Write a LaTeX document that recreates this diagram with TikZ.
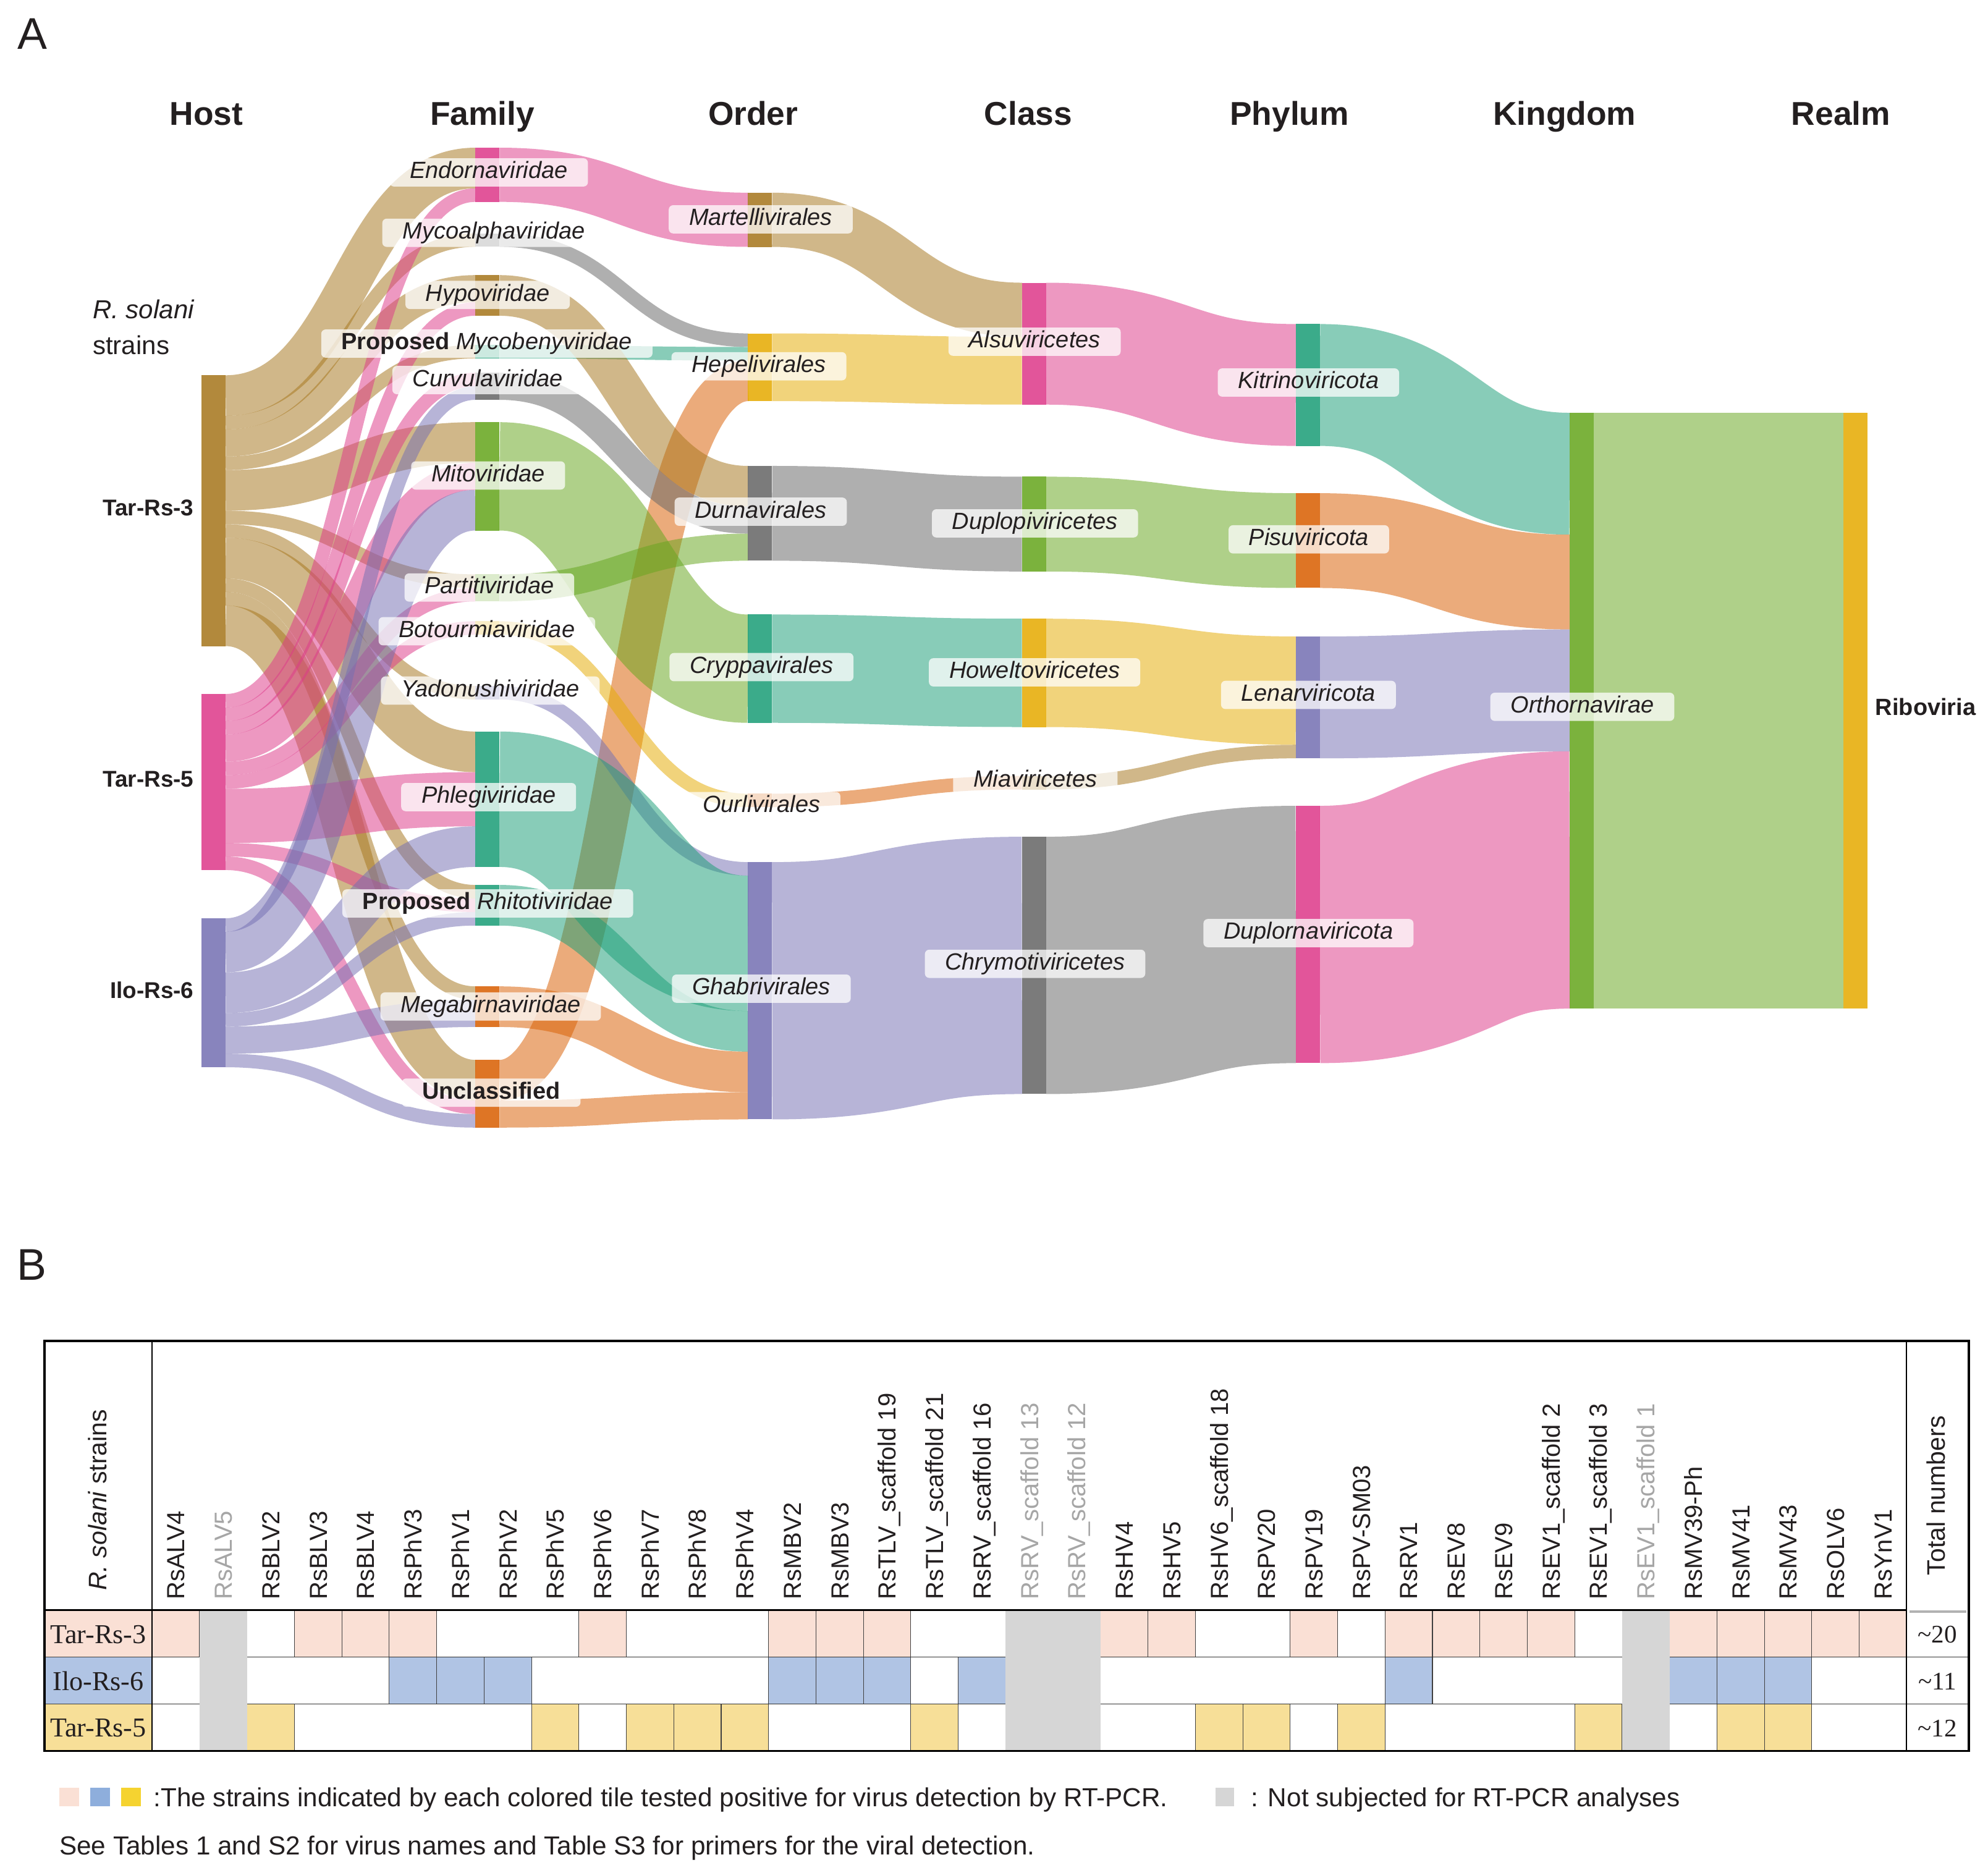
\documentclass[tikz,border=0pt]{standalone}
\usepackage{fontspec}
\setmainfont{Liberation Sans}
\newfontfamily\tabserif{Liberation Serif}
\usetikzlibrary{calc}
\definecolor{cTeal}{HTML}{1B9E77}
\definecolor{cOrange}{HTML}{D95F02}
\definecolor{cPurple}{HTML}{7570B3}
\definecolor{cPink}{HTML}{DE3A8A}
\definecolor{cGreen}{HTML}{66A61E}
\definecolor{cYellow}{HTML}{E6AB02}
\definecolor{cBrown}{HTML}{A6761D}
\definecolor{cGray}{HTML}{666666}
\definecolor{tPeach}{HTML}{FAE0D5}
\definecolor{tBlue}{HTML}{B0C4E4}
\definecolor{tYel}{HTML}{F7DF98}
\definecolor{tGray}{HTML}{D6D6D6}
\definecolor{gBlue}{HTML}{8EAEDC}
\definecolor{gYel}{HTML}{F5D330}
\definecolor{hdrGray}{HTML}{A6A6A6}
\definecolor{txt}{HTML}{231F20}
\newcommand\labfont{\fontsize{18.5}{20}\selectfont\itshape}
\newcommand\sbar[5]{\pgfmathsetmacro\sbarh{(#4)*10.68}\node[sbarst, fill=#5, minimum height=\sbarh pt] (#1) at (#2,#3) {};}
\newcommand\lnk[6]{%
 \pgfmathsetmacro\lnkw{(#5)*10.68}%
 \pgfmathsetmacro\lnkso{-(#2+(#5)/2)*10.68}%
 \pgfmathsetmacro\lnkto{-(#4+(#5)/2)*10.68}%
 \draw[#6, draw opacity=0.52, line width=\lnkw pt]
  let \p1=([yshift=\lnkso pt]#1.north east), \p2=([yshift=\lnkto pt]#3.north west), \p3=($(\p1)!0.5!(\p2)$)
  in (\p1) .. controls (\x3,\y1) and (\x3,\y2) .. (\p2);}
\tikzset{
 sbarst/.style={rectangle, anchor=north west, minimum width=19pt, inner sep=0pt, outer sep=0pt, draw=none, fill opacity=0},
 barfill/.style={fill opacity=0.86},
 lab/.style={fill=white, fill opacity=0.74, text opacity=1, rounded corners=3.5pt, inner xsep=16pt, inner ysep=2.5pt, text height=13.5pt, text depth=3.8pt, font=\labfont, text=txt},
 hd/.style={anchor=base, inner sep=0pt, font=\fontsize{26}{28}\selectfont\bfseries, text=txt},
 hostlab/.style={anchor=east, inner sep=0pt, font=\fontsize{18}{20}\selectfont\bfseries, text=txt},
 hdr/.style={rotate=90, anchor=west, inner sep=0pt, text height=14pt, text depth=0pt, font=\fontsize{19.5}{21}\selectfont},
 tileb/.style={draw=black!75, line width=0.5pt},
 strain/.style={inner sep=0pt, font=\tabserif\fontsize{21.5}{23}\selectfont, text=txt},
 leg/.style={anchor=base west, inner sep=0pt, font=\fontsize{20.6}{22}\selectfont, text=txt}
}
\begin{document}
\begin{tikzpicture}[x=1pt,y=-1pt]
\useasboundingbox (0,0) rectangle (1568,1477);
\fill[white] (0,0) rectangle (1568,1477);
% ---------------- bar nodes ----------------
% Host
\sbar{h3}{159}{296}{20}{cBrown}
\sbar{h5}{159}{547.4}{13}{cPink}
\sbar{h6}{159}{724.3}{11}{cPurple}
% Family
\sbar{fEndo}{375}{116.5}{4}{cPink}
\sbar{fMycoa}{375}{184}{1}{cGray}
\sbar{fHypo}{375}{217}{3}{cBrown}
\sbar{fMycob}{375}{272}{1}{cTeal}
\sbar{fCurv}{375}{294}{2}{cGray}
\sbar{fMito}{375}{333}{8}{cGreen}
\sbar{fParti}{375}{453}{2}{cGreen}
\sbar{fBotou}{375}{490}{1}{cYellow}
\sbar{fYado}{375}{541}{1}{cPurple}
\sbar{fPhleg}{375}{577}{10}{cTeal}
\sbar{fRhito}{375}{698}{3}{cTeal}
\sbar{fMega}{375}{778}{3}{cOrange}
\sbar{fUncl}{375}{836}{5}{cOrange}
% Order
\sbar{oMart}{590}{152}{4}{cBrown}
\sbar{oHepe}{590}{263}{5}{cYellow}
\sbar{oDurn}{590}{367.5}{7}{cGray}
\sbar{oCryp}{590}{484.7}{8}{cTeal}
\sbar{oOurl}{590}{626}{1}{cOrange}
\sbar{oGhab}{590}{680}{19}{cPurple}
% Class
\sbar{cAlsu}{806}{223}{9}{cPink}
\sbar{cDupl}{806}{376}{7}{cGreen}
\sbar{cHowe}{806}{488}{8}{cYellow}
\sbar{cMia}{806}{612}{1}{cBrown}
\sbar{cChry}{806}{660}{19}{cGray}
% Phylum
\sbar{pKitr}{1022}{255.6}{9}{cTeal}
\sbar{pPisu}{1022}{389}{7}{cOrange}
\sbar{pLena}{1022}{502}{9}{cPurple}
\sbar{pDupl}{1022}{635.6}{19}{cPink}
% Kingdom, Realm
\sbar{kOrth}{1238}{325.6}{44}{cGreen}
\sbar{rRibo}{1454}{325.6}{44}{cYellow}
% ---------------- links ----------------
\lnk{h3}{0}{fEndo}{0}{3}{cBrown}
\lnk{h3}{3}{fMycoa}{0}{1}{cBrown}
\lnk{h3}{4}{fHypo}{0}{2}{cBrown}
\lnk{h3}{6}{fMycob}{0}{1}{cBrown}
\lnk{h3}{7}{fMito}{0}{3}{cBrown}
\lnk{h3}{10}{fParti}{0}{1}{cBrown}
\lnk{h3}{11}{fYado}{0}{1}{cBrown}
\lnk{h3}{12}{fPhleg}{0}{3}{cBrown}
\lnk{h3}{15}{fRhito}{0}{1}{cBrown}
\lnk{h3}{16}{fMega}{0}{1}{cBrown}
\lnk{h3}{17}{fUncl}{0}{3}{cBrown}
\lnk{h5}{0}{fEndo}{3}{1}{cPink}
\lnk{h5}{1}{fHypo}{2}{1}{cPink}
\lnk{h5}{2}{fCurv}{0}{1}{cPink}
\lnk{h5}{3}{fMito}{3}{2}{cPink}
\lnk{h5}{5}{fParti}{1}{1}{cPink}
\lnk{h5}{6}{fBotou}{0}{1}{cPink}
\lnk{h5}{7}{fPhleg}{3}{4}{cPink}
\lnk{h5}{11}{fRhito}{1}{1}{cPink}
\lnk{h5}{12}{fUncl}{3}{1}{cPink}
\lnk{h6}{0}{fCurv}{1}{1}{cPurple}
\lnk{h6}{1}{fMito}{5}{3}{cPurple}
\lnk{h6}{4}{fPhleg}{7}{3}{cPurple}
\lnk{h6}{7}{fRhito}{2}{1}{cPurple}
\lnk{h6}{8}{fMega}{1}{2}{cPurple}
\lnk{h6}{10}{fUncl}{4}{1}{cPurple}
\lnk{fEndo}{0}{oMart}{0}{4}{cPink}
\lnk{fMycoa}{0}{oHepe}{0}{1}{cGray}
\lnk{fMycob}{0}{oHepe}{1}{1}{cTeal}
\lnk{fUncl}{0}{oHepe}{2}{3}{cOrange}
\lnk{fHypo}{0}{oDurn}{0}{3}{cBrown}
\lnk{fCurv}{0}{oDurn}{3}{2}{cGray}
\lnk{fParti}{0}{oDurn}{5}{2}{cGreen}
\lnk{fMito}{0}{oCryp}{0}{8}{cGreen}
\lnk{fBotou}{0}{oOurl}{0}{1}{cYellow}
\lnk{fYado}{0}{oGhab}{0}{1}{cPurple}
\lnk{fPhleg}{0}{oGhab}{1}{10}{cTeal}
\lnk{fRhito}{0}{oGhab}{11}{3}{cTeal}
\lnk{fMega}{0}{oGhab}{14}{3}{cOrange}
\lnk{fUncl}{3}{oGhab}{17}{2}{cOrange}
\lnk{oMart}{0}{cAlsu}{0}{4}{cBrown}
\lnk{oHepe}{0}{cAlsu}{4}{5}{cYellow}
\lnk{oDurn}{0}{cDupl}{0}{7}{cGray}
\lnk{oCryp}{0}{cHowe}{0}{8}{cTeal}
\lnk{oOurl}{0}{cMia}{0}{1}{cOrange}
\lnk{oGhab}{0}{cChry}{0}{19}{cPurple}
\lnk{cAlsu}{0}{pKitr}{0}{9}{cPink}
\lnk{cDupl}{0}{pPisu}{0}{7}{cGreen}
\lnk{cHowe}{0}{pLena}{0}{8}{cYellow}
\lnk{cMia}{0}{pLena}{8}{1}{cBrown}
\lnk{cChry}{0}{pDupl}{0}{19}{cGray}
\lnk{pKitr}{0}{kOrth}{0}{9}{cTeal}
\lnk{pPisu}{0}{kOrth}{9}{7}{cOrange}
\lnk{pLena}{0}{kOrth}{16}{9}{cPurple}
\lnk{pDupl}{0}{kOrth}{25}{19}{cPink}
\lnk{kOrth}{0}{rRibo}{0}{44}{cGreen}
% bars drawn on top of links
\foreach \b/\cc in {h3/cBrown,h5/cPink,h6/cPurple,fEndo/cPink,fMycoa/cGray,fHypo/cBrown,fMycob/cTeal,fCurv/cGray,fMito/cGreen,fParti/cGreen,fBotou/cYellow,fYado/cPurple,fPhleg/cTeal,fRhito/cTeal,fMega/cOrange,fUncl/cOrange,oMart/cBrown,oHepe/cYellow,oDurn/cGray,oCryp/cTeal,oOurl/cOrange,oGhab/cPurple,cAlsu/cPink,cDupl/cGreen,cHowe/cYellow,cMia/cBrown,cChry/cGray,pKitr/cTeal,pPisu/cOrange,pLena/cPurple,pDupl/cPink,kOrth/cGreen,rRibo/cYellow}
  \fill[\cc, barfill] (\b.north west) rectangle (\b.south east);
% ---------------- headings ----------------
\node[anchor=center, inner sep=0pt, font=\fontsize{35}{37}\selectfont, text=txt] (secA) at (25.5,26.5) {A};
\node[hd] (hdHost) at (162.7,98.8) {Host};
\node[hd] (hdFam) at (380.5,98.8) {Family};
\node[hd] (hdOrd) at (594,98.8) {Order};
\node[hd] (hdCls) at (811,98.8) {Class};
\node[hd] (hdPhy) at (1017,98.8) {Phylum};
\node[hd] (hdKin) at (1234,98.8) {Kingdom};
\node[hd] (hdRea) at (1452,98.8) {Realm};
\node[anchor=base west, inner sep=0pt, font=\fontsize{20.5}{22}\selectfont\itshape, text=txt] (rsol) at (73,251.5) {R. solani};
\node[anchor=base west, inner sep=0pt, font=\fontsize{20.5}{22}\selectfont, text=txt] (rstr) at (73,279.5) {strains};
\node[hostlab] (lh3) at (153,400.5) {Tar-Rs-3};
\node[hostlab] (lh5) at (153,614.6) {Tar-Rs-5};
\node[hostlab] (lh6) at (153,781.2) {Ilo-Rs-6};
% ---------------- labels ----------------
\node[lab] (lEndo) at (385.5,136) {Endornaviridae};
\node[lab] (lMycoa) at (389.5,183.6) {Mycoalphaviridae};
\node[lab] (lHypo) at (384.6,232.6) {Hypoviridae};
\node[lab] (lMycob) at (384,271) {{\upshape\bfseries Proposed} Mycobenyviridae};
\node[lab] (lCurv) at (384.6,299.8) {Curvulaviridae};
\node[lab] (lMito) at (385,375) {Mitoviridae};
\node[lab] (lParti) at (386,463.4) {Partitiviridae};
\node[lab] (lBotou) at (384,497.9) {Botourmiaviridae};
\node[lab] (lYado) at (386.7,544.7) {Yadonushiviridae};
\node[lab] (lPhleg) at (385.4,628.7) {Phlegiviridae};
\node[lab] (lRhito) at (384.7,712.6) {{\upshape\bfseries Proposed} Rhitotiviridae};
\node[lab] (lMega) at (387,793.9) {Megabirnaviridae};
\node[lab] (lUncl) at (387.4,861.8) {\upshape\bfseries Unclassified};
\node[lab] (lMart) at (600,173) {Martellivirales};
\node[lab] (lHepe) at (598.6,288.9) {Hepelivirales};
\node[lab] (lDurn) at (600,403.6) {Durnavirales};
\node[lab] (lCryp) at (600.6,526.2) {Cryppavirales};
\node[lab] (lOurl) at (600.6,635.8) {Ourlivirales};
\node[lab] (lGhab) at (600.5,779.8) {Ghabrivirales};
\node[lab] (lAlsu) at (816,269.5) {Alsuviricetes};
\node[lab] (lDupl) at (816.3,412.8) {Duplopiviricetes};
\node[lab] (lHowe) at (816,530.3) {Howeltoviricetes};
\node[lab] (lMia) at (816.6,616) {Miaviricetes};
\node[lab] (lChry) at (816.4,760.2) {Chrymotiviricetes};
\node[lab] (lKitr) at (1032,301.7) {Kitrinoviricota};
\node[lab] (lPisu) at (1032.3,425.4) {Pisuviricota};
\node[lab] (lLena) at (1032,548.1) {Lenarviricota};
\node[lab] (lDuplo) at (1032,736) {Duplornaviricota};
\node[lab] (lOrth) at (1248,557.5) {Orthornavirae};
\node[anchor=west, inner sep=0pt, font=\fontsize{18.5}{20}\selectfont\bfseries, text=txt] (lRibo) at (1479,557.5) {Riboviria};
% ================= Panel B =================
\node[anchor=center, inner sep=0pt, font=\fontsize{35}{37}\selectfont, text=txt] (secB) at (25,997.5) {B};
% colored tiles
\foreach \c in {1,4,5,6,10,14,15,16,21,22,25,27,28,29,30,33,34,35,36,37}
  \draw[tileb, fill=tPeach] ({120+(\c-1)*37.4},1270) rectangle ++(37.4,37);
\foreach \c in {6,7,8,14,15,16,18,27,33,34,35}
  \draw[tileb, fill=tBlue] ({120+(\c-1)*37.4},1307) rectangle ++(37.4,37);
\foreach \c in {3,9,11,12,13,17,23,24,26,31,34,35}
  \draw[tileb, fill=tYel] ({120+(\c-1)*37.4},1344) rectangle ++(37.4,37);
% row lines
\draw[line width=0.7pt, black!80] (35,1307) -- (1553,1307);
\draw[line width=0.7pt, black!80] (35,1344) -- (1553,1344);
% gray columns
\foreach \c in {2,19,20,32}
  \fill[tGray] ({120+(\c-1)*37.4},1270) rectangle ++(37.4,111);
% strain cells
\draw[tileb, fill=tPeach] (35,1270) rectangle (120,1307);
\draw[tileb, fill=tBlue] (35,1307) rectangle (120,1344);
\draw[tileb, fill=tYel] (35,1344) rectangle (120,1381);
\node[strain] (sT3) at (77.5,1289) {Tar-Rs-3};
\node[strain] (sI6) at (77.5,1326) {Ilo-Rs-6};
\node[strain] (sT5) at (77.5,1363) {Tar-Rs-5};
\node[strain, font=\tabserif\fontsize{20}{22}\selectfont] (n1) at (1528,1289) {\textasciitilde20};
\node[strain, font=\tabserif\fontsize{20}{22}\selectfont] (n2) at (1528,1326) {\textasciitilde11};
\node[strain, font=\tabserif\fontsize{20}{22}\selectfont] (n3) at (1528,1363) {\textasciitilde12};
% frame
\draw[line width=0.7pt] (120,1057.7) -- (120,1381);
\draw[line width=0.7pt] (1503.6,1057.7) -- (1503.6,1381);
\draw[line width=1.8pt] (35,1270) -- (1503.6,1270);
\draw[line width=1.8pt, black!30] (1506,1271) -- (1551,1271);
\draw[line width=1.8pt] (35,1057.7) rectangle (1553,1381);
% header texts
\node[hdr, text=txt, font=\fontsize{20}{22}\selectfont] (hStr) at (77,1254.6) {\textit{R. solani} strains};
\node[hdr, text=txt, font=\fontsize{20}{22}\selectfont] (hTot) at (1527,1242.6) {Total numbers};
\foreach \nm/\cc [count=\i] in {RsALV4/txt,RsALV5/hdrGray,RsBLV2/txt,RsBLV3/txt,RsBLV4/txt,RsPhV3/txt,RsPhV1/txt,RsPhV2/txt,RsPhV5/txt,RsPhV6/txt,RsPhV7/txt,RsPhV8/txt,RsPhV4/txt,RsMBV2/txt,RsMBV3/txt,RsTLV\_scaffold 19/txt,RsTLV\_scaffold 21/txt,RsRV\_scaffold 16/txt,RsRV\_scaffold 13/hdrGray,RsRV\_scaffold 12/hdrGray,RsHV4/txt,RsHV5/txt,RsHV6\_scaffold 18/txt,RsPV20/txt,RsPV19/txt,RsPV-SM03/txt,RsRV1/txt,RsEV8/txt,RsEV9/txt,RsEV1\_scaffold 2/txt,RsEV1\_scaffold 3/txt,RsEV1\_scaffold 1/hdrGray,RsMV39-Ph/txt,RsMV41/txt,RsMV43/txt,RsOLV6/txt,RsYnV1/txt}
  \node[hdr, text=\cc] (v\i) at ({120+(\i-0.5)*37.4},1262) {\nm};
% legend
\fill[tPeach] (46.7,1410) rectangle (62.3,1424.6);
\fill[gBlue] (71,1410) rectangle (86.7,1424.6);
\fill[gYel] (95.4,1410) rectangle (111,1424.6);
\fill[tGray] (958.6,1410) rectangle (973.5,1424.6);
\node[leg] (leg1) at (121,1424.8) {:The strains indicated by each colored tile tested positive for virus detection by RT-PCR.};
\node[leg] (leg2) at (986.6,1424.8) {: Not subjected for RT-PCR analyses};
\node[leg] (leg3) at (46.7,1463) {See Tables 1 and S2 for virus names and Table S3 for primers for the viral detection.};
\end{tikzpicture}
\end{document}
